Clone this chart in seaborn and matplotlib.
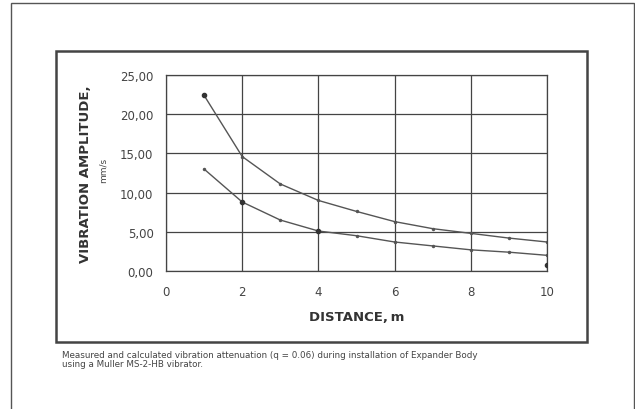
import numpy as np
import pandas as pd
import seaborn as sns
import matplotlib.pyplot as plt
from matplotlib.patches import Rectangle

# valores
distancia = [1, 2, 3, 4, 5, 6, 7, 8, 9, 10]
amplitude_sup = [22.4, 14.6, 11.1, 9.0, 7.6, 6.3, 5.4, 4.8, 4.2, 3.7]
amplitude_inf = [13.0, 8.8, 6.5, 5.1, 4.5, 3.7, 3.2, 2.7, 2.4, 2.0]
medido_x = [1, 2, 4, 10]
medido_y = [22.4, 8.8, 5.1, 0.8]

y_ticks = [0, 5, 10, 15, 20, 25]
y_labels = ['0,00', '5,00', '10,00', '15,00', '20,00', '25,00']
x_ticks = [0, 2, 4, 6, 8, 10]

legenda = ('Measured and calculated vibration attenuation (q = 0.06) during installation of Expander Body\n'
           'using a Muller MS-2-HB vibrator.')

df = pd.DataFrame({
    'distancia': distancia * 2,
    'amplitude': amplitude_sup + amplitude_inf,
    'curva': ['sup'] * len(distancia) + ['inf'] * len(distancia),
})

sns.set_theme(style='white')
plt.rcParams['font.family'] = ['DejaVu Sans']

W, H = 635, 410
fig = plt.figure(figsize=(W / 100, H / 100), dpi=100)

# molduras
fig.patches.append(Rectangle((11 / W, -0.05), (634 - 11) / W, (410 - 4) / H + 0.05,
                             transform=fig.transFigure, fill=False,
                             edgecolor='#555555', linewidth=1.0))
fig.patches.append(Rectangle((56 / W, 1 - 343 / H), (587 - 56) / W, (343 - 52) / H,
                             transform=fig.transFigure, fill=False,
                             edgecolor='#444444', linewidth=1.8))

ax = fig.add_axes([166 / W, 1 - 272 / H, (547 - 166) / W, (272 - 76) / H])

sns.lineplot(data=df, x='distancia', y='amplitude', hue='curva',
             palette=['#555555', '#555555'], marker='o', markersize=2.5,
             markeredgewidth=0, linewidth=1.0, legend=False, ax=ax)
ax.scatter(medido_x, medido_y, s=9, color='#333333', zorder=5)

ax.set_xlim(0, 10)
ax.set_ylim(0, 25)
ax.set_xticks(x_ticks)
ax.set_yticks(y_ticks)
ax.set_yticklabels(y_labels)
ax.grid(True, color='#444444', linewidth=0.9)
for s in ax.spines.values():
    s.set_color('#444444')
    s.set_linewidth(0.9)
ax.tick_params(axis='y', length=3, color='#444444', pad=6, labelsize=8.5, labelcolor='#444444')
ax.tick_params(axis='x', length=0, pad=10, labelsize=8.5, labelcolor='#444444')

ax.set_xlabel('DISTANCE,\u2009m', fontsize=9.5, fontweight='bold', color='#333333', labelpad=9)
ax.set_ylabel('')

fig.text(85 / W, 1 - 174 / H, 'VIBRATION AMPLITUDE,', rotation=90, ha='center', va='center',
         fontsize=9.5, fontweight='bold', color='#333333')
fig.text(103 / W, 1 - 170 / H, 'mm/s', rotation=90, ha='center', va='center',
         fontsize=6.5, color='#444444')

fig.text(62 / W, 1 - 360 / H, legenda, ha='left', va='center', fontsize=6.3,
         color='#444444', linespacing=0.95)

fig.savefig('out.png', dpi=100)
